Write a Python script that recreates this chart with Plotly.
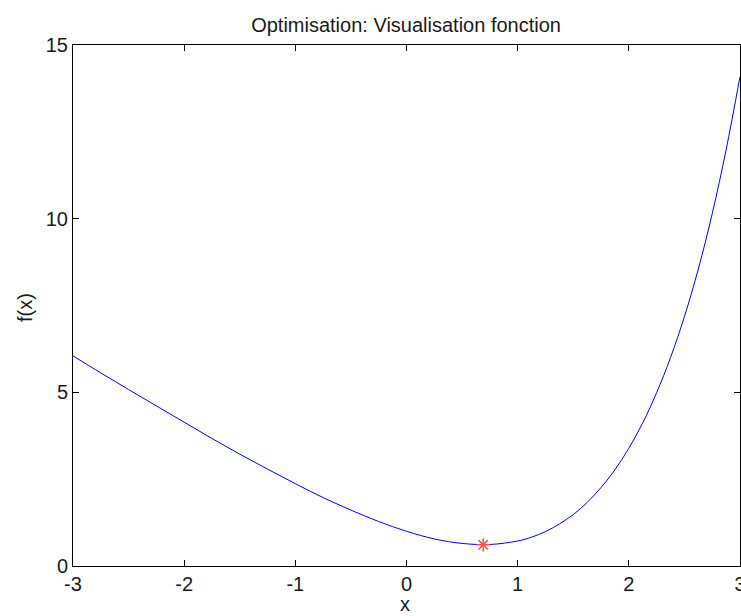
import plotly.graph_objects as go

# values
x_vals = [-3, -2.75, -2.5, -2.25, -2, -1.75, -1.5, -1.25, -1, -0.75, -0.5, -0.25,
          0, 0.25, 0.5, 0.75, 1, 1.125, 1.25, 1.375, 1.5, 1.625, 1.75, 1.875,
          2, 2.125, 2.25, 2.375, 2.5, 2.625, 2.75, 2.875, 3]
f_vals = [6.05, 5.56, 5.08, 4.61, 4.14, 3.67, 3.22, 2.79, 2.37, 1.97, 1.61, 1.28,
          1.00, 0.78, 0.65, 0.62, 0.72, 0.83, 0.99, 1.21, 1.48, 1.83, 2.26, 2.77,
          3.39, 4.12, 4.99, 6.00, 7.18, 8.55, 10.14, 11.98, 14.09]
min_x = [0.69]
min_f = [0.61]

x_ticks = [-3, -2, -1, 0, 1, 2, 3]
x_tick_text = ["-3", "-2", "-1", "0", "1", "2", "3"]
y_ticks = [0, 5, 10, 15]
y_tick_text = ["0", "5", "10", "15"]

font = "Liberation Sans, Arial, sans-serif"
txt = "#1a1a1a"

fig = go.Figure()
fig.add_trace(go.Scatter(x=x_vals, y=f_vals, mode="lines",
                         line=dict(color="#0000ff", width=1, shape="spline", smoothing=1),
                         hoverinfo="skip", showlegend=False))
fig.add_trace(go.Scatter(x=min_x, y=min_f, mode="markers",
                         marker=dict(symbol="asterisk-open", size=11,
                                     line=dict(color="#ff0000", width=1.5)),
                         showlegend=False))

axis_common = dict(showline=True, linecolor="black", linewidth=1, mirror="ticks",
                   ticks="inside", ticklen=6, tickcolor="black", showgrid=False,
                   zeroline=False, ticklabeloverflow="allow", automargin=False,
                   tickfont=dict(family=font, size=20, color=txt))

fig.update_layout(
    width=741, height=616,
    margin=dict(l=73, r=1, t=45, b=50),
    paper_bgcolor="white", plot_bgcolor="white",
    title=dict(text="Optimisation: Visualisation fonction", x=0.548, xanchor="center",
               y=1 - 24.5 / 616, yanchor="middle",
               font=dict(family=font, size=20, color=txt)),
    xaxis=dict(range=[-3, 3], tickvals=x_ticks, ticktext=x_tick_text, **axis_common),
    yaxis=dict(range=[0, 15], tickvals=y_ticks, ticktext=y_tick_text, **axis_common),
    annotations=[
        dict(text="x", xref="paper", yref="paper", x=0.4985, y=-0.0729,
             xanchor="center", yanchor="middle", showarrow=False,
             font=dict(family=font, size=20, color=txt)),
        dict(text="f(x)", xref="paper", yref="paper", x=-0.072, y=0.497,
             xanchor="center", yanchor="middle", textangle=-90, showarrow=False,
             font=dict(family=font, size=20, color=txt)),
    ],
)

fig.write_html("out.html")
